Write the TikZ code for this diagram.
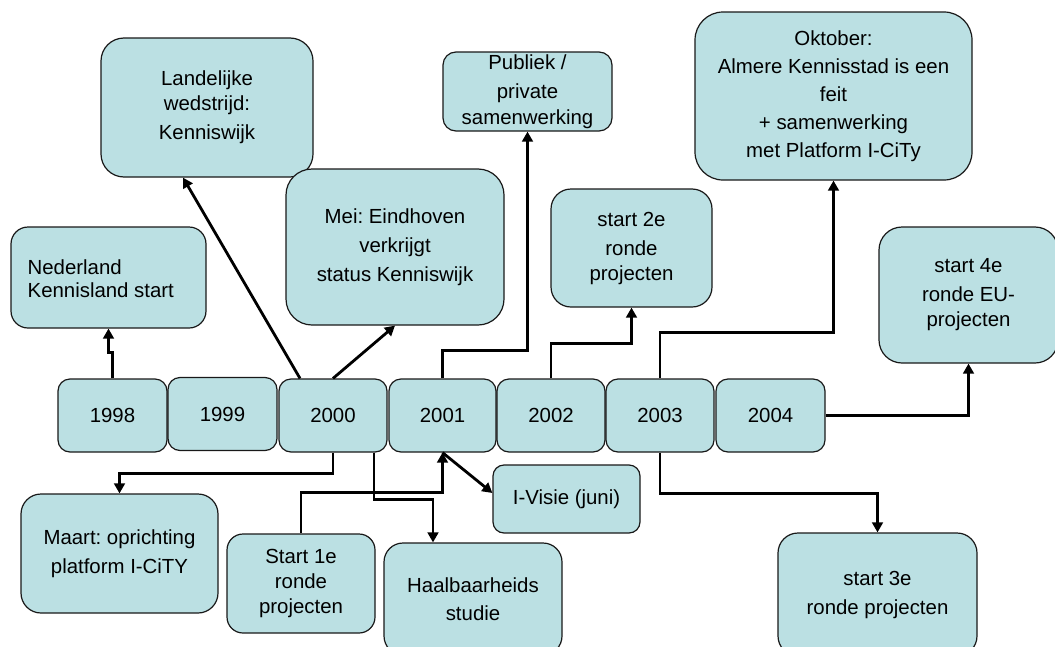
\documentclass[tikz,border=0pt]{standalone}
\usepackage{fontspec}
\setmainfont{Liberation Sans}
\frenchspacing
\usetikzlibrary{calc,arrows.meta}
\definecolor{boxfill}{RGB}{187,224,227}
\begin{document}
\begin{tikzpicture}[x=0.75pt,y=-0.75pt,
  box/.style={draw=black!90, line width=0.9pt, fill=boxfill, rounded corners=#1*0.75pt,
    inner sep=0pt, align=center, font=\fontsize{15.3}{20.25}\selectfont},
  box/.default=12,
  sz/.style 2 args={minimum width=#1*0.75pt, minimum height=#2*0.75pt},
  arr/.style={line width=2.1pt, -{Triangle[length=7.5pt,width=8pt]}}]
\useasboundingbox (0,0) rectangle (1055,646);

% year boxes
\node[box, sz={109}{73}] (y1998) at (112.5,415.5) {1998};
\node[box, sz={109}{73}] (y1999) at (222.5,414) {1999};
\node[box, sz={108}{73}] (y2000) at (333,415.5) {2000};
\node[box, sz={107}{73}] (y2001) at (442.5,415.5) {2001};
\node[box, sz={108}{73}] (y2002) at (551,415.5) {2002};
\node[box, sz={108}{73}] (y2003) at (660,415.5) {2003};
\node[box, sz={109}{73}] (y2004) at (770.5,415.5) {2004};

% event boxes above
\node[box=17, sz={195}{101}] (ned) at (108.5,277.5) {};
\node[align=left, anchor=west, inner sep=0pt, font=\fontsize{15.3}{17.25}\selectfont] (nedtxt) at ($(ned.west)+(17,1)$) {Nederland\\Kennisland start};
\node[box=23, sz={212}{139}] (land) at (207,107.5) {Landelijke\\[-1.5pt]wedstrijd:\\[1.5pt]Kenniswijk};
\node[box=26, sz={218}{156}] (mei) at (395,247) {Mei: Eindhoven\\[1.5pt]verkrijgt\\[1.5pt]status Kenniswijk};
\node[box=13, sz={169}{79}] (pub) at (527.5,91.5) {Publiek /\\[2pt]private\\[-1pt]samenwerking};
\node[box=20, sz={161}{118}] (s2e) at (631.5,248) {start 2e\\[1.5pt]ronde\\[-1.5pt]projecten};
\node[box=28, sz={277}{168}, font=\fontsize{15.3}{21}\selectfont] (okt) at (833.5,96) {Oktober:\\Almere Kennisstad is een\\feit\\+ samenwerking\\met Platform I-CiTy};
\node[box=23, sz={179}{136}] (s4e) at (968.5,295) {start 4e\\[1.5pt]ronde EU-\\[-1.5pt]projecten};

% event boxes below
\node[box=20, sz={197}{119}, font=\fontsize{15.3}{21.75}\selectfont] (maart) at (119.5,553.5) {Maart: oprichting\\platform I-CiTY};
\node[box=16, sz={148}{99}, font=\fontsize{15.3}{18.75}\selectfont] (s1e) at (301,583.5) {Start 1e\\ronde\\projecten};
\node[box=19, sz={178}{112}, font=\fontsize{15.3}{21}\selectfont] (haal) at (473,599) {Haalbaarheids\\studie};
\node[box=11, sz={147}{68}] (ivisie) at (566.5,499) {I-Visie (juni)};
\node[box=20, sz={199}{123}, font=\fontsize{15.3}{21.75}\selectfont] (s3e) at (877.5,594.5) {start 3e\\ronde projecten};

% connectors
\draw[arr] (y1998.north) -- ++(0,-26) -| (ned.south);
\draw[arr] ($(y2000.north)+(-33,0)$) -- ($(land.south)+(-24,0)$);
\draw[arr] (y2000.north) -- (mei.south);
\draw[arr] (y2001.north) -- ++(0,-28) -| (pub.south);
\draw[arr] (y2002.north) -- ++(0,-35) -| (s2e.south);
\draw[arr] (y2003.north) -- ++(0,-46) -| (okt.south);
\draw[arr] (y2004.east) -| (s4e.south);
\draw[arr] (y2000.south) -- ++(0,21) -| (maart.north);
\draw[arr] ($(y2000.south)+(41,0)$) -- ++(0,47) -| ($(haal.north)+(-40,0)$);
\draw[arr] (s1e.north) -- ++(0,-41) -| (y2001.south);
\draw[arr] (y2001.south) -- ($(ivisie.west)+(0,-6)$);
\draw[arr] (y2003.south) -- ++(0,41) -| (s3e.north);
\end{tikzpicture}
\end{document}
